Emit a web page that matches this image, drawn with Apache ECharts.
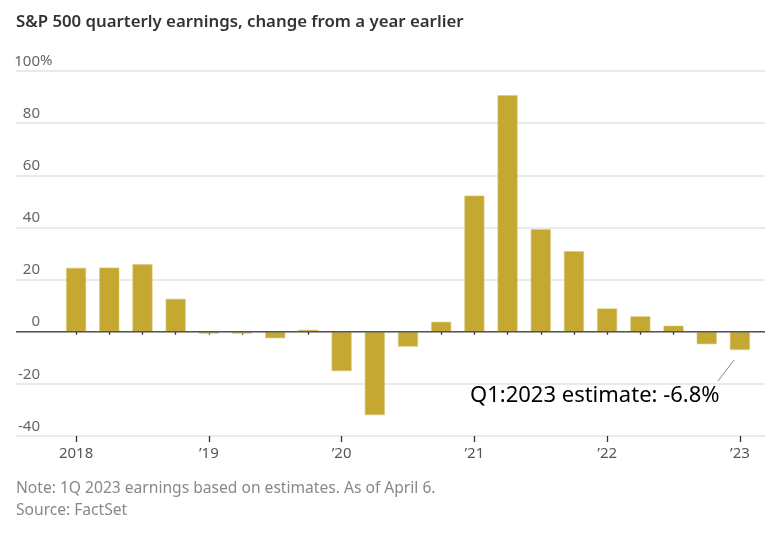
<!DOCTYPE html>
<html>
<head>
<meta charset="utf-8">
<script src="https://cdn.jsdelivr.net/npm/echarts@6/dist/echarts.min.js"></script>
<style>
html,body{margin:0;padding:0;background:#fff;}
#chart{width:768px;height:534px;}
</style>
</head>
<body>
<div id="chart"></div>
<script>
// Data
const quarters = ['Q1 2018','Q2 2018','Q3 2018','Q4 2018','Q1 2019','Q2 2019','Q3 2019','Q4 2019',
  'Q1 2020','Q2 2020','Q3 2020','Q4 2020','Q1 2021','Q2 2021','Q3 2021','Q4 2021',
  'Q1 2022','Q2 2022','Q3 2022','Q4 2022','Q1 2023'];
const yearLabels = ['2018','','','','\u201919','','','','\u201920','','','','\u201921','','','','\u201922','','','','\u201923'];
const earningsChange = [24.5, 24.6, 25.9, 12.6, -0.7, -0.7, -2.5, 0.7,
  -15.1, -32.0, -5.7, 3.8, 52.2, 90.7, 39.3, 30.9,
  8.9, 5.9, 2.3, -4.8, -7.0];
const yTicks = [-40, -20, 0, 20, 40, 60, 80, 100];
const titleText = 'S&P 500 quarterly earnings, change from a year earlier';
const noteText = 'Note: 1Q 2023 earnings based on estimates. As of April 6.';
const sourceText = 'Source: FactSet';
const annotationText = 'Q1:2023 estimate: -6.8%';

const chart = echarts.init(document.getElementById('chart'));
const font = 'Noto Sans';
const gridTop = 71, gridBottom = 98;

chart.setOption({
  animation: false,
  backgroundColor: '#fff',
  textStyle: { fontFamily: font },
  title: {
    text: titleText, left: 11, top: 9,
    textStyle: { fontFamily: font, fontSize: 16.8, fontWeight: 600, color: '#333' }
  },
  grid: [
    { left: 16, right: 3, top: gridTop, bottom: gridBottom },
    { left: 59.5, right: 11.5, top: gridTop, bottom: gridBottom }
  ],
  xAxis: [
    { type: 'value', gridIndex: 0, min: 0, max: 1, show: false },
    { type: 'category', gridIndex: 1, data: quarters, boundaryGap: true,
      axisLine: { show: false },
      axisTick: { show: true, alignWithLabel: true, length: 3, interval: 0, lineStyle: { color: '#333', width: 1.3 } },
      axisLabel: { show: false } },
    { type: 'category', gridIndex: 1, data: yearLabels, boundaryGap: true, position: 'bottom',
      axisLine: { show: false },
      axisTick: { show: true, alignWithLabel: true, length: 6, interval: 3, lineStyle: { color: '#333', width: 1.3 } },
      axisLabel: { show: true, interval: 3, margin: 10, fontSize: 15, color: '#555', fontFamily: font } }
  ],
  yAxis: [
    { type: 'value', gridIndex: 0, min: -40, max: 100, interval: 20,
      axisLine: { show: false }, axisTick: { show: false },
      splitLine: { show: true, lineStyle: { color: '#e3e3e3', width: 1.5 } },
      axisLabel: { inside: true, align: 'right', verticalAlign: 'bottom', margin: 24, padding: [0,0,2,0],
        fontSize: 15, color: '#666', fontFamily: font,
        formatter: v => yTicks.includes(v) ? String(v) : '' } },
    { type: 'value', gridIndex: 1, min: -40, max: 100, interval: 20, show: false }
  ],
  series: [
    { type: 'bar', xAxisIndex: 1, yAxisIndex: 1, data: earningsChange, barWidth: 20,
      itemStyle: { color: '#c4a831', borderColor: '#d9c77a', borderWidth: 0.6 } },
    { type: 'line', xAxisIndex: 0, yAxisIndex: 0, data: [[0,0],[1,0]], symbol: 'none',
      lineStyle: { color: '#555', width: 1.5 }, z: 3 }
  ],
  graphic: [
    { type: 'text', left: 40, top: 53, style: { text: '%', fontSize: 15, fill: '#666', fontFamily: font } },
    { type: 'text', left: 16, top: 481, style: { text: noteText, fontSize: 15.6, fill: '#888', fontFamily: font } },
    { type: 'text', left: 16, top: 503, style: { text: sourceText, fontSize: 15.6, fill: '#888', fontFamily: font } },
    { type: 'text', left: 470, top: 385, style: { text: annotationText, fontSize: 22, fill: '#000', fontFamily: 'Noto Sans' } },
    { type: 'line', shape: { x1: 718, y1: 381, x2: 734, y2: 360 }, style: { stroke: '#888', lineWidth: 1 } }
  ]
});
</script>
</body>
</html>
